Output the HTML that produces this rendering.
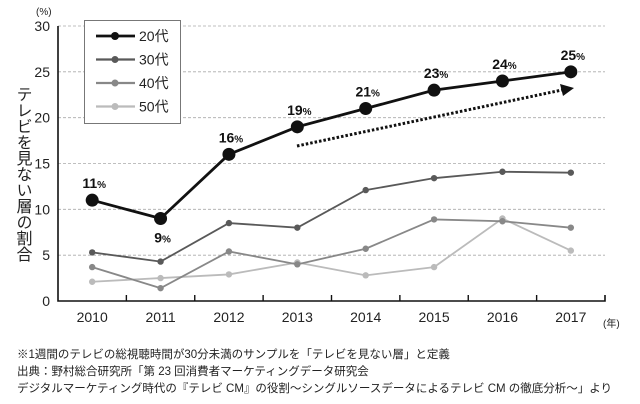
<!DOCTYPE html>
<html><head><meta charset="utf-8"><style>
body{margin:0;background:#fff;}
svg{display:block;font-family:"Liberation Sans","Noto Sans CJK JP",sans-serif;}
</style></head><body>
<svg id="chart" width="640" height="404"></svg>
<script>
const years=['2010','2011','2012','2013','2014','2015','2016','2017'];
const s20=[11,9,16,19,21,23,24,25];
const s30=[5.3,4.3,8.5,8,12.1,13.4,14.1,14];
const s40=[3.7,1.4,5.4,4,5.7,8.9,8.7,8];
const s50=[2.1,2.5,2.9,4.2,2.8,3.7,9,5.5];
const yTicks=[0,5,10,15,20,25,30];
const labels20=['11','9','16','19','21','23','24','25'];
const legendNames=['20代','30代','40代','50代'];
const NS='http://www.w3.org/2000/svg';
const svg=document.getElementById('chart');
const x0=58,x1=605,yb=301,yt=26;
const bw=(x1-x0)/years.length;
const X=i=>x0+bw*(i+0.5);
const Y=v=>yb-(v/30)*(yb-yt);
function mk(t,a,p){const e=document.createElementNS(NS,t);for(const k in a)e.setAttribute(k,a[k]);(p||svg).appendChild(e);return e;}
yTicks.forEach(v=>{
 if(v>0){const g=mk('line',{x1:x0,x2:x1,y1:Y(v),y2:Y(v),stroke:'#aaa','stroke-width':0.8,'stroke-dasharray':'3,2'});
 
 }
 const t=mk('text',{x:50,y:Y(v)+5,'text-anchor':'end','font-size':14,fill:'#222'});t.textContent=v;
 
 
});
const ax=mk('path',{d:`M${x0} ${yt} V${yb} H${x1} V${yb-6}`,stroke:'#111','stroke-width':1.6,fill:'none'});


years.forEach((y,i)=>{
 if(i>0){const tk=mk('line',{x1:x0+bw*i,x2:x0+bw*i,y1:yb,y2:yb-6,stroke:'#111','stroke-width':1.4});
 
 }
 const t=mk('text',{x:X(i),y:yb+21,'text-anchor':'middle','font-size':14,fill:'#222'});t.textContent=y;
 
 
});
const un=mk('text',{x:603,y:327,'font-size':10,fill:'#222'});un.textContent='(年)';


const pu=mk('text',{x:36,y:15,'font-size':10,fill:'#222'});pu.textContent='(%)';


const yt2=mk('text',{x:22,y:86,'font-size':16,fill:'#222','writing-mode':'tb','glyph-orientation-vertical':0,'letter-spacing':0});yt2.textContent='テレビを見ない層の割合';


const ar=mk('line',{x1:297,y1:146,x2:562,y2:90,stroke:'#111','stroke-width':3,'stroke-dasharray':'2.5,2'});


const ah=mk('path',{d:'M574 88 L560 84 L563 96 Z',fill:'#111'});


const series=[[s50,'#bbb',1.8,3.2],[s40,'#888',1.8,3.2],[s30,'#595959',1.8,3.2],[s20,'#111',2.8,6.5]];
series.forEach(([d,c,w,r],k)=>{
 const p=mk('polyline',{points:d.map((v,i)=>X(i)+','+Y(v)).join(' '),fill:'none',stroke:c,'stroke-width':w});
 
 
 d.forEach((v,i)=>{const m=mk('circle',{cx:X(i),cy:Y(v),r:r,fill:c});
 
 });
});
s20.forEach((v,i)=>{
 const below=i===1;
 const t=mk('text',{x:X(i)+2,y:below?Y(v)+24:Y(v)-12,'text-anchor':'middle','font-size':14,'font-weight':'bold',fill:'#111'});
 t.textContent=labels20[i];
 const ts=mk('tspan',{'font-size':10},t);ts.textContent='%';
 
 
});
const lg=mk('rect',{x:84.5,y:20.5,width:96,height:103,fill:'#fff',stroke:'#777','stroke-width':1});


const lc=[['#111',2.8,4],['#595959',2.2,3.5],['#888',2.2,3.5],['#bbb',2.2,3.5]];
legendNames.forEach((n,i)=>{
 const y=36+i*23.5;
 const l=mk('line',{x1:96,x2:135,y1:y,y2:y,stroke:lc[i][0],'stroke-width':lc[i][1]});
 
 
 mk('circle',{cx:115,cy:y,r:lc[i][2],fill:lc[i][0]});
 const t=mk('text',{x:139,y:y+5,'font-size':14,fill:'#222'});t.textContent=n;
 
 
});
const notes=['※1週間のテレビの総視聴時間が30分未満のサンプルを「テレビを見ない層」と定義','出典：野村総合研究所「第 23 回消費者マーケティングデータ研究会','デジタルマーケティング時代の『テレビ CM』の役割～シングルソースデータによるテレビ CM の徹底分析～」より'];
notes.forEach((n,i)=>{const t=mk('text',{x:17,y:358+i*17,'font-size':11.5,fill:'#222'});t.textContent=n;
 
 });
</script>
</body></html>
